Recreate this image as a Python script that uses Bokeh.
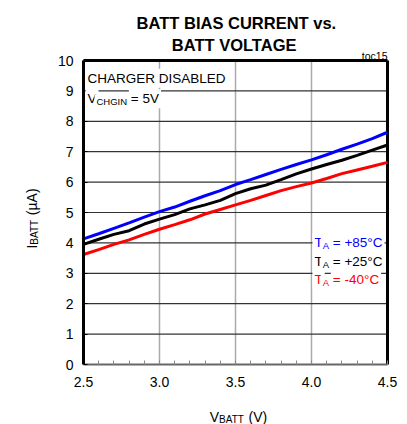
import math
from bokeh.plotting import figure
from bokeh.models import Range1d, Label, FixedTicker, LinearAxis
from bokeh.embed import file_html
from bokeh.resources import INLINE

# ---- data ----
vbatt = [2.5, 2.6, 2.7, 2.8, 2.9, 3.0, 3.1, 3.2, 3.3, 3.4, 3.5,
         3.6, 3.7, 3.8, 3.9, 4.0, 4.1, 4.2, 4.3, 4.4, 4.5]
ibatt_85 = [4.13, 4.30, 4.48, 4.66, 4.85, 5.03, 5.18, 5.37, 5.55, 5.72, 5.92,
            6.08, 6.25, 6.42, 6.58, 6.73, 6.90, 7.08, 7.25, 7.43, 7.64]
ibatt_25 = [3.95, 4.12, 4.28, 4.40, 4.62, 4.78, 4.93, 5.12, 5.25, 5.40, 5.62,
            5.78, 5.90, 6.08, 6.27, 6.43, 6.58, 6.72, 6.88, 7.05, 7.22]
ibatt_m40 = [3.62, 3.78, 3.95, 4.10, 4.28, 4.45, 4.60, 4.76, 4.95, 5.10, 5.25,
             5.40, 5.56, 5.72, 5.85, 5.97, 6.12, 6.28, 6.40, 6.52, 6.65]
x_ticks = [2.5, 3.0, 3.5, 4.0, 4.5]
x_minor = [2.6, 2.7, 2.8, 2.9, 3.1, 3.2, 3.3, 3.4, 3.6, 3.7, 3.8, 3.9, 4.1, 4.2, 4.3, 4.4]
y_ticks = [0, 1, 2, 3, 4, 5, 6, 7, 8, 9, 10]

# ---- layout (pixels of the picture) ----
W, H = 407, 424
FL, FR, FT, FB = 83, 387, 60, 364          # data area edges
XS = (FR - FL) / (x_ticks[-1] - x_ticks[0])  # px per volt
YS = (FB - FT) / (y_ticks[-1] - y_ticks[0])  # px per uA


def X(px):
    return x_ticks[0] + (px - FL) / XS


def Y(py):
    return y_ticks[0] + (FB - py) / YS


FONT = "Liberation Sans"
W_REG = {' ': .278, '(': .333, ')': .333, '=': .584, '+': .584, '°': .4, 'µ': .576,
         '.': .278, '-': .333, 'A': .667, 'B': .667, 'C': .722, 'D': .722, 'E': .667,
         'G': .778, 'H': .722, 'I': .278, 'L': .556, 'N': .722, 'R': .722, 'S': .667,
         'T': .611, 'V': .667, 'O': .778, 'U': .722, 't': .278, 'o': .556, 'c': .5}
W_BOLD = {' ': .278, '.': .278, 'A': .722, 'B': .722, 'C': .722, 'E': .667, 'G': .778,
          'I': .278, 'L': .611, 'N': .722, 'O': .778, 'R': .722, 'S': .667, 'T': .611,
          'U': .722, 'V': .667, 'v': .556, 's': .556}

HAS_PADDING = "padding" in Label.properties()
PAD = 2


def text_width(t, size, bold=False):
    tbl = W_BOLD if bold else W_REG
    return sum(tbl.get(ch, .556) for ch in t) * size


p = figure(width=W, height=H,
           x_range=Range1d(X(0), X(W)), y_range=Range1d(Y(H), Y(0)),
           output_backend="svg", toolbar_location=None,
           x_axis_type=None, y_axis_type=None,
           min_border_left=0, min_border_right=0, min_border_top=0, min_border_bottom=0)
p.background_fill_color = "white"
p.border_fill_color = "white"
p.outline_line_color = None
p.grid.visible = False

# grid lines (inside the data area only)
inner_x = x_ticks[1:-1]
inner_y = y_ticks[1:-1]
p.segment(x0=inner_x, y0=[y_ticks[0]] * len(inner_x), x1=inner_x, y1=[y_ticks[-1]] * len(inner_x),
          line_color="#aaaaaa", line_width=1.5)
p.segment(x0=[x_ticks[0]] * len(inner_y), y0=inner_y, x1=[x_ticks[-1]] * len(inner_y), y1=inner_y,
          line_color="#333333", line_width=1.2)

# axes fixed at the data area's edges
xa = LinearAxis(fixed_location=y_ticks[0], bounds=(x_ticks[0], x_ticks[-1]))
xa.ticker = FixedTicker(ticks=x_ticks, minor_ticks=x_minor)
xa.major_label_overrides = {t: f"{t:.1f}" for t in x_ticks}
xa.axis_line_color = "#666666"
xa.axis_line_width = 2
xa.major_tick_in = 4
xa.major_tick_out = 0
xa.minor_tick_in = 4
xa.minor_tick_out = 0
xa.major_tick_line_color = "#888888"
xa.minor_tick_line_color = "#888888"
xa.major_label_standoff = 12
xa.major_label_text_font = FONT
xa.major_label_text_font_size = "14px"
xa.major_label_text_color = "black"
p.add_layout(xa, "below")

ya = LinearAxis(fixed_location=x_ticks[0], bounds=(y_ticks[0], y_ticks[-1]))
ya.ticker = FixedTicker(ticks=y_ticks)
ya.axis_line_color = "black"
ya.axis_line_width = 3
ya.major_tick_in = 4
ya.major_tick_out = 0
ya.minor_tick_line_color = None
ya.major_tick_line_color = "black"
ya.major_label_standoff = 10
ya.major_label_text_font = FONT
ya.major_label_text_font_size = "14px"
ya.major_label_text_color = "black"
p.add_layout(ya, "left")

# top and right borders of the data area
p.line([x_ticks[0], x_ticks[-1]], [y_ticks[-1], y_ticks[-1]], line_color="black", line_width=3)
p.line([x_ticks[-1], x_ticks[-1]], [y_ticks[0], y_ticks[-1]], line_color="black", line_width=3)

# curves
p.line(vbatt, ibatt_85, line_color="#0000ff", line_width=3)
p.line(vbatt, ibatt_25, line_color="black", line_width=3)
p.line(vbatt, ibatt_m40, line_color="#ff0000", line_width=3)


def add_text(px, py, pieces, angle=0.0, align="left", bg=None):
    total = sum(text_width(t, s, b) for t, s, sh, c, b in pieces)
    adv = 0.0 if align == "left" else (-total / 2 if align == "center" else -total)
    for t, s, sh, c, b in pieces:
        stripped = t.lstrip(" ")
        adv += text_width(t[:len(t) - len(stripped)], s, b)
        if angle == 0.0:
            xo, yo = adv, -sh
        else:
            xo, yo = sh, adv
        padded = bool(bg) and HAS_PADDING
        if padded:
            xo -= PAD
        lab = Label(x=X(px), y=Y(py), x_offset=xo, y_offset=yo, text=stripped,
                    text_font=FONT, text_font_size=f"{s}px",
                    text_font_style="bold" if b else "normal",
                    text_color=c, text_baseline="alphabetic", text_align="left",
                    angle=angle)
        if bg:
            lab.background_fill_color = bg
            if padded:
                lab.padding = PAD
        p.add_layout(lab)
        adv += text_width(stripped, s, b)


# title
add_text(236.5, 22.7, [("BATT BIAS CURRENT vs.", 16.5, 0, "black", True)], align="center")
add_text(235.5, 44.3, [("BATT VOLTAGE", 16.5, 0, "black", True)], align="center")
add_text(387, 55.5, [("toc15", 10.5, 0, "black", False)], align="right")

# conditions box
add_text(87, 77.7, [("CHARGER DISABLED", 13.5, 0, "black", False)], bg="white")
add_text(87, 98.3, [("V", 13.5, 0, "black", False), ("CHGIN", 9.5, 3, "black", False),
                    (" = 5V", 13.5, 0, "black", False)], bg="white")

# series labels
add_text(314, 242, [("T", 13.5, 0, "#0000ff", False), ("A", 9.5, 3, "#0000ff", False),
                    (" = +85°C", 13.5, 0, "#0000ff", False)], bg="white")
add_text(314, 260.5, [("T", 13.5, 0, "black", False), ("A", 9.5, 3, "black", False),
                      (" = +25°C", 13.5, 0, "black", False)], bg="white")
add_text(314, 279, [("T", 13.5, 0, "#ff0000", False), ("A", 9.5, 3, "#ff0000", False),
                    (" = -40°C", 13.5, 0, "#ff0000", False)], bg="white")

# axis titles
add_text(238, 416, [("V", 14, 0, "black", False), ("BATT", 10, 3, "black", False),
                    (" (V)", 14, 0, "black", False)], align="center")
add_text(31, 218, [("I", 14, 0, "black", False), ("BATT", 10, 3, "black", False),
                   (" (µA)", 14, 0, "black", False)], angle=math.pi / 2, align="center")

open("out.html", "w").write(file_html(p, INLINE))
